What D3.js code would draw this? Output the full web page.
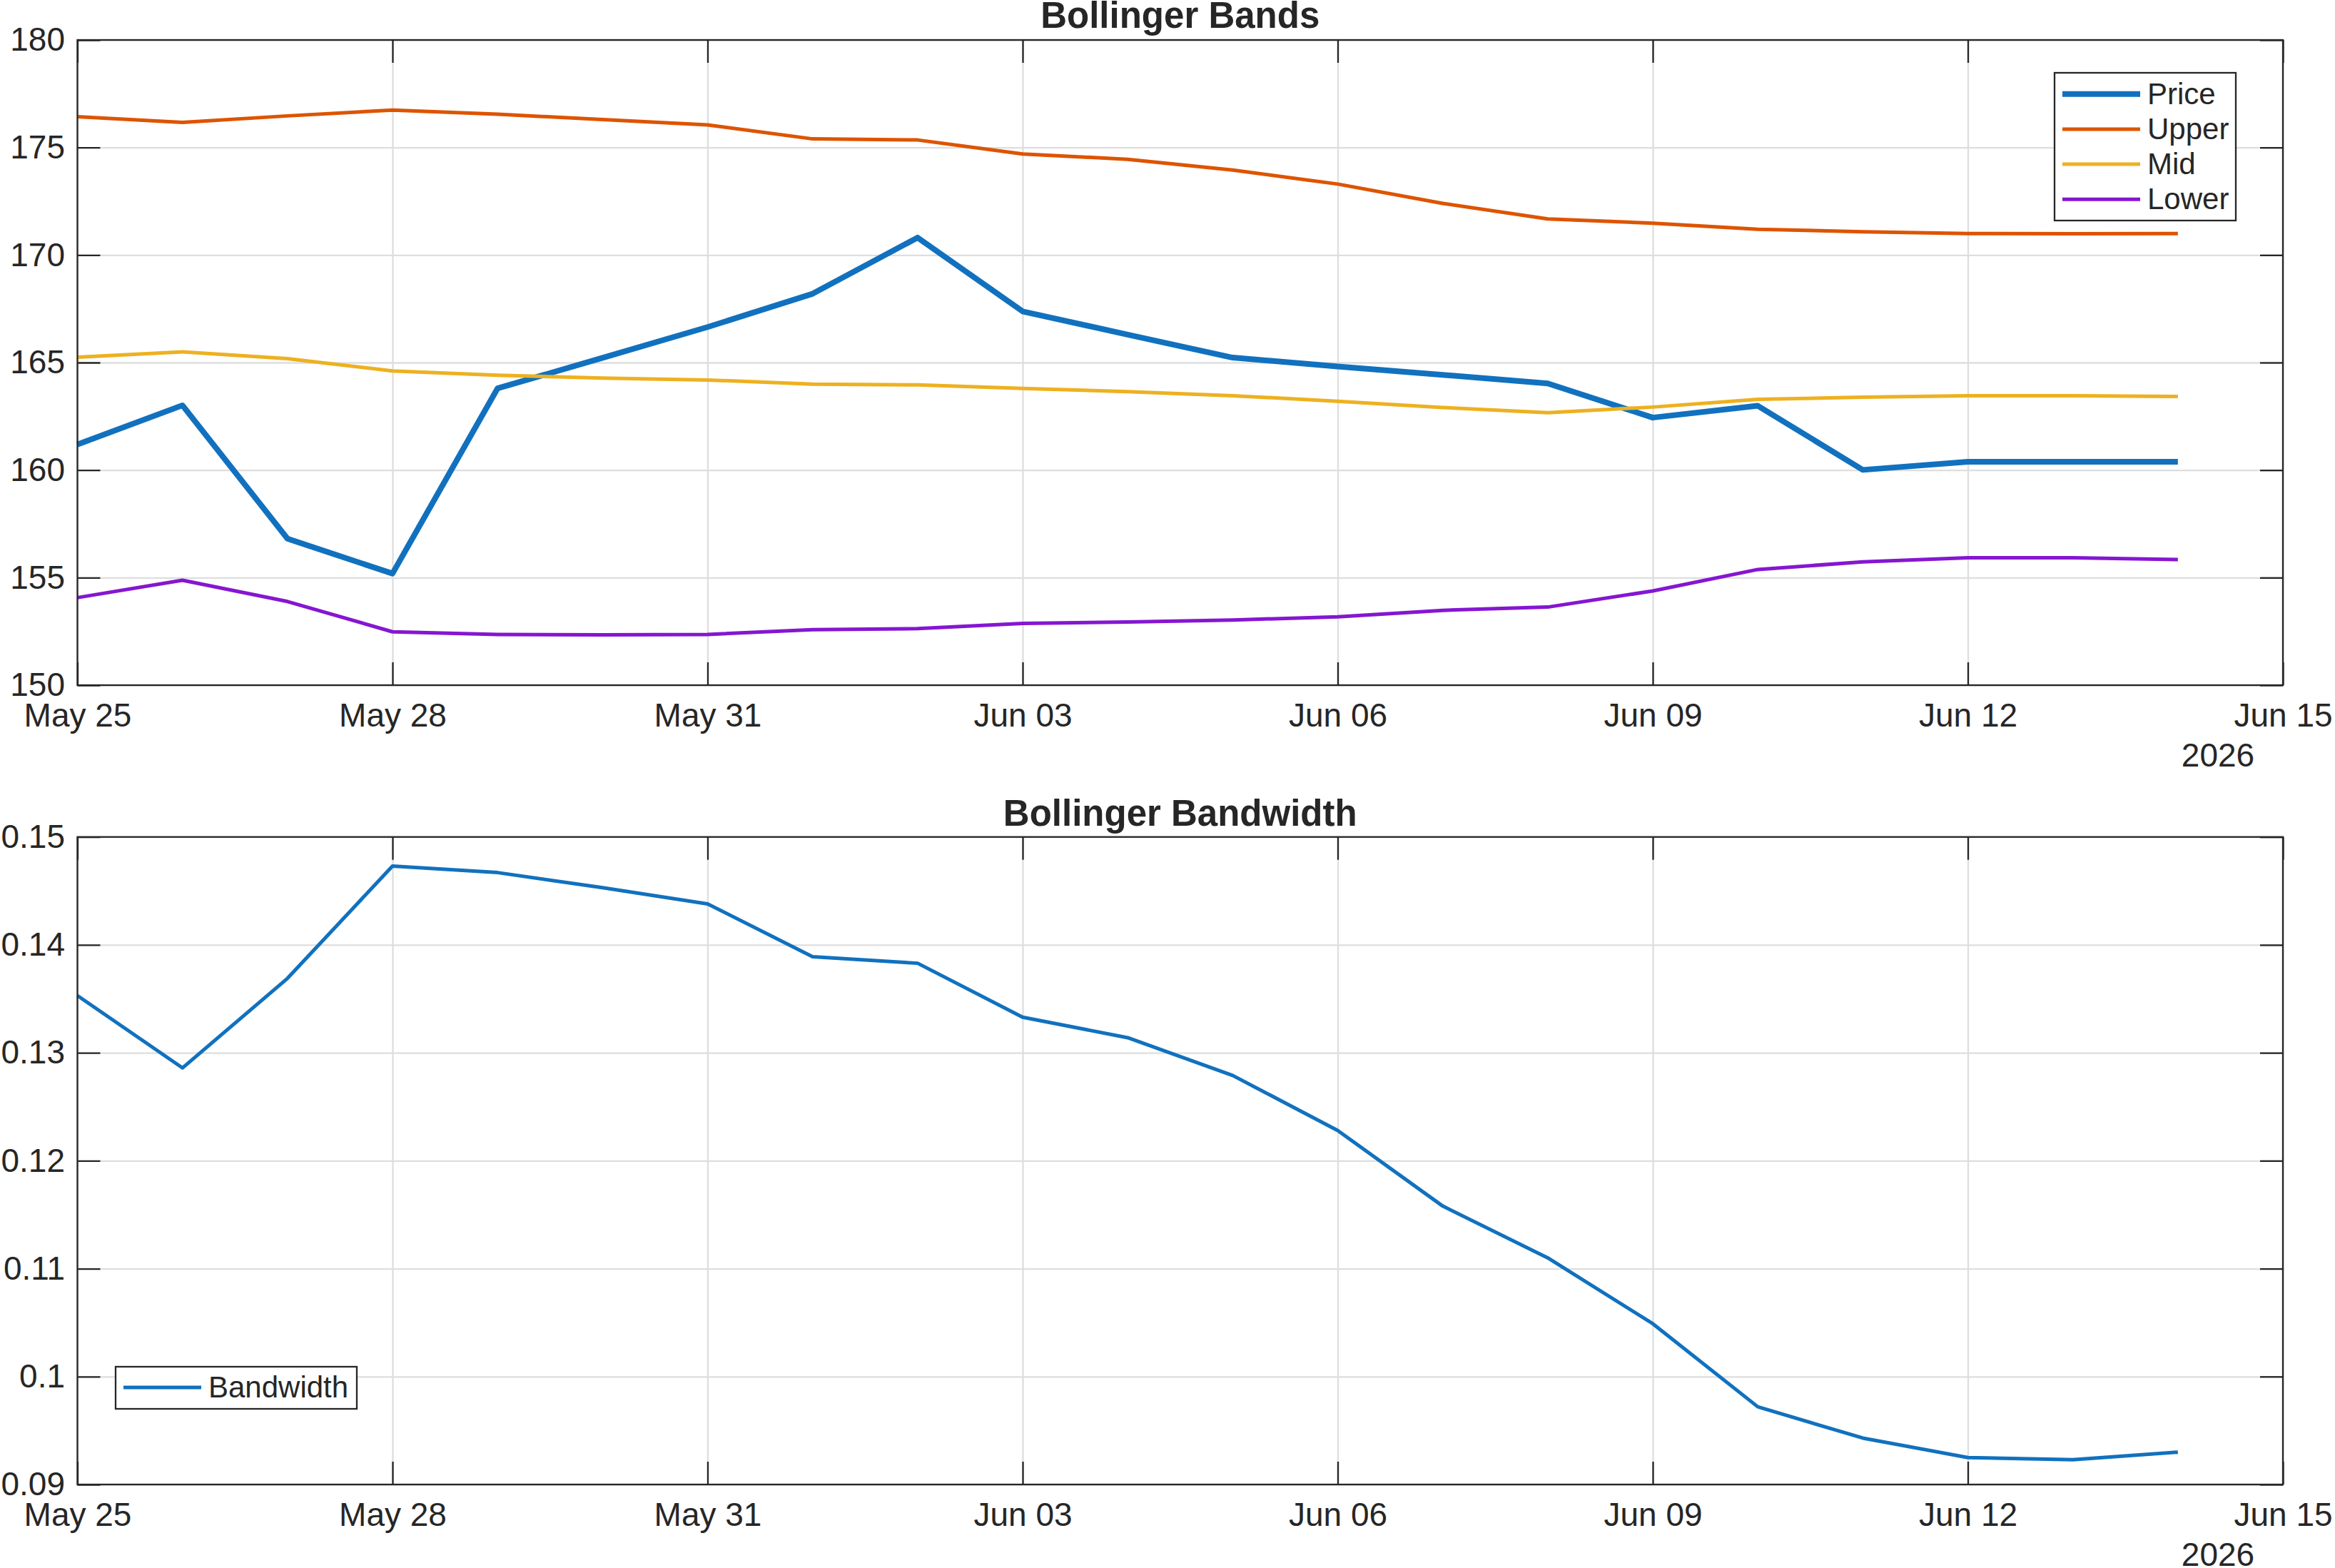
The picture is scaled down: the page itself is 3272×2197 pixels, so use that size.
<!DOCTYPE html>
<html>
<head>
<meta charset="utf-8">
<script src="https://cdn.jsdelivr.net/npm/d3@7"></script>
<style>
  body { margin: 0; background: #fff; }
  svg { display: block; font-family: "Liberation Sans", Arial, sans-serif; }
</style>
</head>
<body>
<svg id="chart" width="3272" height="2197"></svg>
<script>
// data
const dates = [
  '2026-05-25', '2026-05-26', '2026-05-27', '2026-05-28', '2026-05-29', '2026-05-30', '2026-05-31',
  '2026-06-01', '2026-06-02', '2026-06-03', '2026-06-04', '2026-06-05', '2026-06-06', '2026-06-07',
  '2026-06-08', '2026-06-09', '2026-06-10', '2026-06-11', '2026-06-12', '2026-06-13', '2026-06-14'
];
const price = [161.19, 163.01, 156.81, 155.19, 163.80, 165.22, 166.65, 168.20, 170.81, 167.38, 166.30,
  165.23, 164.82, 164.43, 164.03, 162.44, 162.99, 160.01, 160.39, 160.39, 160.39];
const upper = [176.43, 176.17, 176.47, 176.74, 176.55, 176.30, 176.05, 175.40, 175.35, 174.70, 174.45,
  173.95, 173.30, 172.40, 171.68, 171.48, 171.20, 171.08, 171.00, 170.99, 171.00];
const mid = [165.25, 165.50, 165.18, 164.61, 164.41, 164.28, 164.19, 164.00, 163.96, 163.80, 163.65,
  163.46, 163.20, 162.91, 162.67, 162.93, 163.29, 163.39, 163.46, 163.46, 163.42];
const lower = [154.07, 154.88, 153.89, 152.48, 152.36, 152.34, 152.36, 152.58, 152.63, 152.87, 152.94,
  153.03, 153.18, 153.48, 153.63, 154.38, 155.38, 155.73, 155.92, 155.92, 155.84];
const bandwidth = [0.1353, 0.1286, 0.1369, 0.1473, 0.1467, 0.1453, 0.1438, 0.1389, 0.1383, 0.1333, 0.1314,
  0.1279, 0.1228, 0.1158, 0.1110, 0.1049, 0.0972, 0.0943, 0.0925, 0.0923, 0.0930];

const xDomain = ['2026-05-25', '2026-06-15'];
const xTicks = ['2026-05-25', '2026-05-28', '2026-05-31', '2026-06-03', '2026-06-06', '2026-06-09', '2026-06-12', '2026-06-15'];
const topTicks = [150, 155, 160, 165, 170, 175, 180];
const bottomTicks = [0.09, 0.10, 0.11, 0.12, 0.13, 0.14, 0.15];
const bandNames = ['Price', 'Upper', 'Mid', 'Lower'];
const yearLabel = '2026';

const parse = d3.utcParse('%Y-%m-%d');
const days = dates.map(parse);

const svg = d3.select('#chart');
const textColor = '#262626';
const gridColor = '#dedede';
const tickLen = 32;

const left = 108.5;
const right = 3199;
const x = d3.scaleUtc().domain(xDomain.map(parse)).range([left, right]);

function drawPanel(opts) {
  const { top, bottom, yDomain, yTicks, yFormat, title, titleY, series } = opts;
  const y = d3.scaleLinear().domain(yDomain).range([bottom, top]);
  const h = bottom - top;
  const w = right - left;
  const g = svg.append('g');

  // grid
  g.append('g')
    .attr('transform', `translate(0,${bottom})`)
    .call(d3.axisBottom(x).tickValues(xTicks.map(parse)).tickSize(-h).tickFormat(''))
    .call((s) => s.select('.domain').remove())
    .selectAll('line').attr('stroke', gridColor).attr('stroke-width', 2.3);
  g.append('g')
    .attr('transform', `translate(${left},0)`)
    .call(d3.axisLeft(y).tickValues(yTicks).tickSize(-w).tickFormat(''))
    .call((s) => s.select('.domain').remove())
    .selectAll('line').attr('stroke', gridColor).attr('stroke-width', 2.3);

  // lines
  series.forEach((s) => {
    const line = d3.line()
      .x((d, i) => x(days[i]))
      .y((d) => y(d));
    g.append('path')
      .datum(s.values)
      .attr('fill', 'none')
      .attr('stroke', s.color)
      .attr('stroke-width', s.width)
      .attr('stroke-linejoin', 'round')
      .attr('d', line);
  });

  // axes with inward ticks on all sides
  const xb = g.append('g')
    .attr('transform', `translate(0,${bottom})`)
    .call(d3.axisBottom(x).tickValues(xTicks.map(parse)).tickSizeInner(-tickLen).tickSizeOuter(0)
      .tickFormat(d3.utcFormat('%b %d')));
  xb.selectAll('text').attr('y', 58).attr('dy', 0);
  const yl = g.append('g')
    .attr('transform', `translate(${left},0)`)
    .call(d3.axisLeft(y).tickValues(yTicks).tickSizeInner(-tickLen).tickSizeOuter(0)
      .tickPadding(17.5).tickFormat(yFormat));
  g.append('g')
    .attr('transform', `translate(0,${top})`)
    .call(d3.axisTop(x).tickValues(xTicks.map(parse)).tickSizeInner(-tickLen).tickSizeOuter(0).tickFormat(''));
  g.append('g')
    .attr('transform', `translate(${right},0)`)
    .call(d3.axisRight(y).tickValues(yTicks).tickSizeInner(-tickLen).tickSizeOuter(0).tickFormat(''));

  g.selectAll('.domain').remove();
  g.selectAll('.tick line').filter(function () { return this.getAttribute('stroke') === 'currentColor'; })
    .attr('stroke', textColor).attr('stroke-width', 2.3);
  g.selectAll('.tick text')
    .attr('fill', textColor)
    .style('font-size', '46px')
    .style('font-family', '"Liberation Sans", Arial, sans-serif');
  [xb, yl].forEach((a) => a.attr('font-family', null).attr('font-size', null));

  g.append('rect')
    .attr('x', left).attr('y', top)
    .attr('width', w).attr('height', h)
    .attr('fill', 'none')
    .attr('stroke', textColor)
    .attr('stroke-width', 2.3);

  g.append('text')
    .attr('x', 3108)
    .attr('y', bottom + 114)
    .attr('text-anchor', 'middle')
    .attr('fill', textColor)
    .style('font-size', '46px')
    .text(yearLabel);

  g.append('text')
    .attr('x', (left + right) / 2)
    .attr('y', titleY)
    .attr('text-anchor', 'middle')
    .attr('fill', textColor)
    .style('font-size', '51px')
    .style('font-weight', 'bold')
    .text(title);

  return g;
}

const bandColors = ['#1171BE', '#DD5400', '#EDB120', '#8516D1'];
const bandWidths = [8, 5, 5, 5];
const bandValues = [price, upper, mid, lower];
const bandSeries = bandNames.map((n, i) => ({ name: n, values: bandValues[i], color: bandColors[i], width: bandWidths[i] }));

drawPanel({
  top: 56, bottom: 960,
  yDomain: [150, 180], yTicks: topTicks, yFormat: d3.format('d'),
  title: 'Bollinger Bands', titleY: 39,
  series: bandSeries
});

drawPanel({
  top: 1172.7, bottom: 2080,
  yDomain: [0.09, 0.15], yTicks: bottomTicks, yFormat: d3.format('~g'),
  title: 'Bollinger Bandwidth', titleY: 1157,
  series: [{ name: 'Bandwidth', values: bandwidth, color: '#1171BE', width: 5 }]
});

// legends
function legend(entries, box, rowY, rowGap) {
  const g = svg.append('g');
  g.append('rect')
    .attr('x', box[0]).attr('y', box[1])
    .attr('width', box[2] - box[0]).attr('height', box[3] - box[1])
    .attr('fill', '#fff')
    .attr('stroke', textColor)
    .attr('stroke-width', 2.3);
  entries.forEach((e, i) => {
    const yy = rowY + i * rowGap;
    g.append('line')
      .attr('x1', box[0] + 11).attr('x2', box[0] + 120)
      .attr('y1', yy).attr('y2', yy)
      .attr('stroke', e.color).attr('stroke-width', e.width);
    g.append('text')
      .attr('x', box[0] + 130).attr('y', yy + 14)
      .attr('fill', textColor)
      .style('font-size', '42px')
      .text(e.name);
  });
}

legend(bandSeries, [2879, 102, 3133, 309], 131.7, 49.2);
legend([{ name: 'Bandwidth', color: '#1171BE', width: 5 }], [162, 1915, 500, 1974], 1944, 0);
</script>
</body>
</html>
